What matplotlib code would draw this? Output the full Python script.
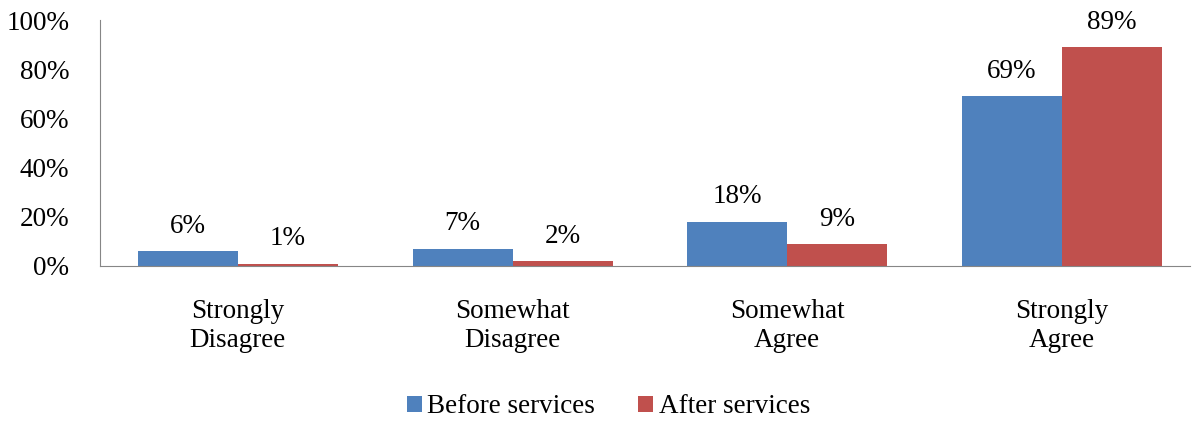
import matplotlib.pyplot as plt
import numpy as np

categories = ['Strongly\nDisagree', 'Somewhat\nDisagree', 'Somewhat\nAgree', 'Strongly\nAgree']
before = [6, 7, 18, 69]
after = [1, 2, 9, 89]

plt.rcParams['font.family'] = ['Liberation Serif', 'DejaVu Serif']
plt.rcParams['font.size'] = 19.5

fig = plt.figure(figsize=(11.93, 4.26), dpi=100)
ax = fig.add_axes([0.0838, 0.3756, 0.9137, 0.5774])

x = np.arange(len(categories))
w = 0.364
b1 = ax.bar(x - w / 2, before, w, color='#4f81bd', label='Before services')
b2 = ax.bar(x + w / 2, after, w, color='#c0504d', label='After services')

for bars in (b1, b2):
    for r in bars:
        ax.text(r.get_x() + r.get_width() / 2, r.get_height() + 5, '%d%%' % r.get_height(),
                ha='center', va='bottom')

ax.set_xlim(-0.502, 3.466)
ax.set_ylim(0, 100)
ax.set_yticks([0, 20, 40, 60, 80, 100])
ax.set_yticklabels(['%d%%' % v for v in [0, 20, 40, 60, 80, 100]])
ax.set_xticks(x)
ax.set_xticklabels(categories, linespacing=1.2)
ax.tick_params(length=0)
ax.tick_params(axis='y', pad=22)
ax.tick_params(axis='x', pad=24)
for s in ['top', 'right']:
    ax.spines[s].set_visible(False)
for s in ['left', 'bottom']:
    ax.spines[s].set_color('#868686')

fig.legend(handles=[b1, b2], loc='center', bbox_to_anchor=(0.51, 0.045), ncol=2, frameon=False,
           handlelength=0.55, handleheight=0.55, handletextpad=0.2, columnspacing=1.6)

fig.savefig('out.png')
